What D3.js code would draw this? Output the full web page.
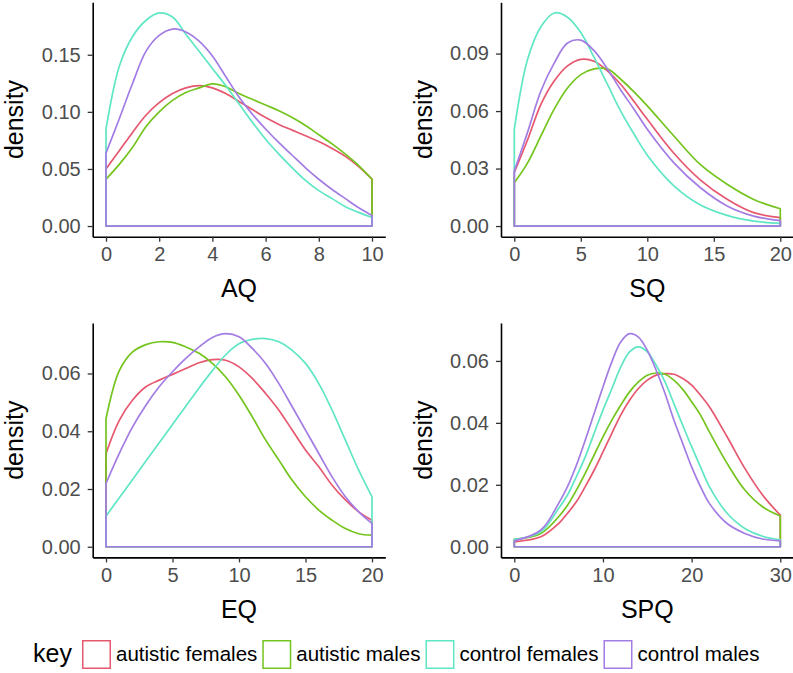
<!DOCTYPE html>
<html lang="en">
<head>
<meta charset="utf-8">
<script src="https://d3js.org/d3.v7.min.js"></script>
<style>
body { margin: 0; background: #fff; }
text { font-family: "Liberation Sans", Arial, Helvetica, sans-serif; }
</style>
</head>
<body>
<script>
// groups in drawing order (last one ends up on top)
var groups = ["autistic females", "autistic males", "control females", "control males"];
var groupColors = ["#E6586F", "#74C41E", "#5FE6C4", "#A37CE4"];

// AQ panel
var aqX     = [0, 0.5, 1, 1.5, 2, 2.5, 3, 3.5, 4, 4.5, 5, 5.5, 6, 6.5, 7, 7.5, 8, 8.5, 9, 9.5, 10];
var aqAutF  = [0.050, 0.066, 0.082, 0.097, 0.108, 0.116, 0.121, 0.123, 0.121, 0.116, 0.109, 0.102, 0.095, 0.089, 0.084, 0.079, 0.074, 0.068, 0.061, 0.052, 0.041];
var aqAutM  = [0.041, 0.054, 0.069, 0.087, 0.100, 0.110, 0.117, 0.121, 0.1245, 0.122, 0.116, 0.111, 0.106, 0.101, 0.095, 0.088, 0.080, 0.072, 0.063, 0.053, 0.041];
var aqConF  = [0.085, 0.140, 0.166, 0.180, 0.1866, 0.183, 0.168, 0.153, 0.138, 0.123, 0.107, 0.091, 0.076, 0.063, 0.051, 0.040, 0.031, 0.024, 0.017, 0.012, 0.0075];
var aqConM  = [0.064, 0.094, 0.125, 0.153, 0.167, 0.1725, 0.170, 0.162, 0.149, 0.131, 0.113, 0.098, 0.085, 0.073, 0.062, 0.051, 0.041, 0.032, 0.024, 0.016, 0.0093];
var aqXTicks = [0, 2, 4, 6, 8, 10];
var aqYTicks = [0, 0.05, 0.10, 0.15];

// SQ panel
var sqX     = [0, 1, 2, 3, 4, 5, 6, 7, 8, 9, 10, 12, 14, 16, 18, 20];
var sqAutF  = [0.028, 0.045, 0.0635, 0.0757, 0.0836, 0.087, 0.086, 0.081, 0.074, 0.065, 0.0557, 0.038, 0.024, 0.014, 0.007, 0.0044];
var sqAutM  = [0.0226, 0.033, 0.047, 0.061, 0.072, 0.079, 0.082, 0.082, 0.0766, 0.070, 0.0627, 0.047, 0.032, 0.0218, 0.0139, 0.009];
var sqConF  = [0.0505, 0.087, 0.104, 0.1112, 0.109, 0.101, 0.088, 0.074, 0.060, 0.048, 0.037, 0.021, 0.011, 0.0056, 0.0026, 0.0014];
var sqConM  = [0.0287, 0.049, 0.0705, 0.085, 0.0955, 0.097, 0.0915, 0.082, 0.071, 0.061, 0.0505, 0.033, 0.020, 0.0105, 0.0052, 0.0028];
var sqXTicks = [0, 5, 10, 15, 20];
var sqYTicks = [0, 0.03, 0.06, 0.09];

// EQ panel
var eqX     = [0, 1, 2, 3, 4, 5, 6, 7, 8, 9, 10, 11, 12, 13, 14, 15, 16, 17, 18, 19, 20];
var eqAutF  = [0.0323, 0.0438, 0.0508, 0.0554, 0.0577, 0.0597, 0.0617, 0.0637, 0.0648, 0.0646, 0.0623, 0.0583, 0.0531, 0.0473, 0.0404, 0.0335, 0.0277, 0.0213, 0.0162, 0.0121, 0.0092];
var eqAutM  = [0.0444, 0.061, 0.0675, 0.070, 0.071, 0.0708, 0.0692, 0.067, 0.0635, 0.0588, 0.0525, 0.045, 0.037, 0.030, 0.023, 0.0173, 0.0127, 0.0092, 0.0063, 0.0045, 0.004];
var eqConF  = [0.0106, 0.017, 0.0233, 0.0297, 0.036, 0.0423, 0.0487, 0.055, 0.061, 0.0665, 0.0703, 0.0718, 0.0721, 0.071, 0.068, 0.0635, 0.0565, 0.0473, 0.0369, 0.0265, 0.0173];
var eqConM  = [0.0219, 0.0323, 0.0415, 0.049, 0.0554, 0.0606, 0.0652, 0.0692, 0.0725, 0.0738, 0.0727, 0.0687, 0.0635, 0.0565, 0.0485, 0.0404, 0.0323, 0.0242, 0.0173, 0.0121, 0.0081];
var eqXTicks = [0, 5, 10, 15, 20];
var eqYTicks = [0, 0.02, 0.04, 0.06];

// SPQ panel
var spqX    = [0, 3, 5, 6, 7, 8, 9, 10, 11, 12, 13, 14, 15, 16, 17, 18, 19, 20, 21, 22, 24, 26, 28, 30];
var spqAutF = [0.0016, 0.0032, 0.0075, 0.0108, 0.0145, 0.0194, 0.0247, 0.0306, 0.0366, 0.0425, 0.0473, 0.0511, 0.0538, 0.0554, 0.0559, 0.0557, 0.0543, 0.0522, 0.0489, 0.0452, 0.0355, 0.0253, 0.0167, 0.0102];
var spqAutM = [0.0024, 0.0043, 0.0097, 0.0134, 0.0183, 0.0237, 0.0296, 0.0355, 0.0409, 0.0457, 0.050, 0.0532, 0.0554, 0.0561, 0.0557, 0.0538, 0.0508, 0.0468, 0.0425, 0.0371, 0.0269, 0.0183, 0.0129, 0.0099];
var spqConF = [0.0024, 0.0048, 0.0124, 0.0167, 0.0226, 0.029, 0.0366, 0.0441, 0.051, 0.058, 0.0629, 0.0645, 0.0629, 0.0586, 0.0532, 0.0462, 0.0392, 0.0323, 0.0258, 0.0194, 0.0108, 0.0059, 0.0034, 0.0022];
var spqConM = [0.0019, 0.0054, 0.014, 0.0194, 0.0263, 0.0344, 0.043, 0.0516, 0.0597, 0.0661, 0.0688, 0.0677, 0.0634, 0.057, 0.0495, 0.0409, 0.0333, 0.0258, 0.0194, 0.014, 0.0075, 0.0043, 0.0025, 0.0019];
var spqXTicks = [0, 10, 20, 30];
var spqYTicks = [0, 0.02, 0.04, 0.06];

var panels = [
	{title: "AQ",  x: aqX,  series: [aqAutF, aqAutM, aqConF, aqConM],     xTicks: aqXTicks,  yTicks: aqYTicks,  left: 92.7, top: 2.3},
	{title: "SQ",  x: sqX,  series: [sqAutF, sqAutM, sqConF, sqConM],     xTicks: sqXTicks,  yTicks: sqYTicks,  left: 501,  top: 2.3},
	{title: "EQ",  x: eqX,  series: [eqAutF, eqAutM, eqConF, eqConM],     xTicks: eqXTicks,  yTicks: eqYTicks,  left: 92.7, top: 323},
	{title: "SPQ", x: spqX, series: [spqAutF, spqAutM, spqConF, spqConM], xTicks: spqXTicks, yTicks: spqYTicks, left: 501,  top: 323}
];

var panelW = 292.6, panelH = 234.4;

var svg = d3.select("body").append("svg")
	.attr("width", 793)
	.attr("height", 673);

panels.forEach(function(p){
	var xmin = d3.min(p.x), xmax = d3.max(p.x);
	var ymax = d3.max(p.series, function(s){ return d3.max(s); });
	var xpad = (xmax - xmin) * 0.05, ypad = ymax * 0.05;

	var x = d3.scaleLinear().domain([xmin - xpad, xmax + xpad]).range([p.left, p.left + panelW]);
	var y = d3.scaleLinear().domain([-ypad, ymax + ypad]).range([p.top + panelH, p.top]);

	var g = svg.append("g");

	// density outlines (closed, like geom_density)
	var area = d3.area()
		.x(function(d){ return x(d[0]); })
		.y0(y(0))
		.y1(function(d){ return y(d[1]); })
		.curve(d3.curveCatmullRom);

	p.series.forEach(function(s, i){
		var pts = p.x.map(function(v, j){ return [v, s[j]]; });
		g.append("path")
			.attr("d", area(pts))
			.attr("fill", "none")
			.attr("stroke", groupColors[i])
			.attr("stroke-width", 1.7)
			.attr("stroke-linejoin", "round");
	});

	var fmt = d3.format(".2f");

	var ax = g.append("g")
		.attr("transform", "translate(0," + (p.top + panelH) + ")")
		.call(d3.axisBottom(x).tickValues(p.xTicks).tickSize(5).tickSizeOuter(0).tickPadding(5).tickFormat(d3.format("d")));
	var ay = g.append("g")
		.attr("transform", "translate(" + p.left + ",0)")
		.call(d3.axisLeft(y).tickValues(p.yTicks).tickSize(5).tickSizeOuter(0).tickPadding(7).tickFormat(fmt));

	[ax, ay].forEach(function(a){
		a.select(".domain").attr("stroke", "#000").attr("stroke-width", 1.6);
		a.selectAll(".tick line").attr("stroke", "#333").attr("stroke-width", 1.3);
		a.selectAll(".tick text")
			.attr("fill", "#4D4D4D")
			.style("font-size", "20px")
			.style("font-family", "'Liberation Sans', Arial, sans-serif");
	});

	g.append("text")
		.attr("x", p.left + panelW / 2)
		.attr("y", p.top + panelH + 60.5)
		.attr("text-anchor", "middle")
		.style("font-size", "25px")
		.text(p.title);

	g.append("text")
		.attr("transform", "translate(" + (p.left - 69.5) + "," + (p.top + panelH / 2) + ") rotate(-90)")
		.attr("text-anchor", "middle")
		.style("font-size", "25px")
		.text("density");
});

// legend
var leg = svg.append("g");
leg.append("text")
	.attr("x", 33)
	.attr("y", 662)
	.style("font-size", "25px")
	.text("key");

var lx = 82;
groups.forEach(function(name, i){
	leg.append("rect")
		.attr("x", lx + 0.75)
		.attr("y", 640.75)
		.attr("width", 27.5)
		.attr("height", 27.5)
		.attr("fill", "none")
		.attr("stroke", groupColors[i])
		.attr("stroke-width", 1.5);
	var t = leg.append("text")
		.attr("x", lx + 34)
		.attr("y", 661)
		.style("font-size", "20.5px")
		.text(name);
	lx = lx + 34 + t.node().getComputedTextLength() + 5;
});
</script>
</body>
</html>
